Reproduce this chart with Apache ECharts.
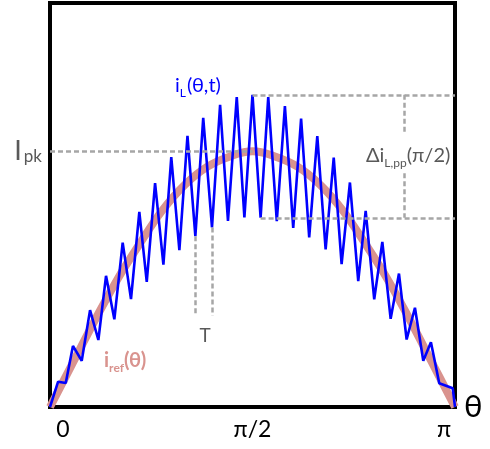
<!DOCTYPE html>
<html><head><meta charset="utf-8">
<script src="https://cdn.jsdelivr.net/npm/echarts@6/dist/echarts.min.js"></script>
<style>html,body{margin:0;padding:0;background:#fff}#c{width:490px;height:449px}</style>
</head><body><div id="c"></div>
<script>
// θ in degrees, currents normalised to I_pk
const thetaL = [0,3.6,7.0,10.2,14.1,17.8,21.5,24.9,28.6,32.3,36.0,39.7,43.0,46.7,50.4,53.9,57.5,61.1,64.6,68.1,72.0,75.6,79.1,83.0,86.4,90.0,93.6,97.0,100.8,104.4,108.1,111.6,115.2,118.8,122.5,126.1,129.6,133.3,137.0,140.3,144.1,147.7,151.4,155.1,158.5,162.2,165.9,169.3,173.0,179.0,180];
const iL     = [0,0.099,0.094,0.239,0.181,0.379,0.262,0.513,0.343,0.643,0.422,0.763,0.489,0.876,0.557,0.977,0.613,1.060,0.668,1.131,0.702,1.182,0.728,1.212,0.741,1.221,0.740,1.212,0.727,1.177,0.700,1.128,0.663,1.059,0.616,0.975,0.559,0.878,0.492,0.767,0.421,0.646,0.345,0.522,0.264,0.388,0.181,0.253,0.093,0.073,0];
const thetaRef = [0,10,20,30,40,50,60,70,80,90,100,110,120,130,140,150,160,170,180];
const iRef     = [0,0.17,0.34,0.50,0.64,0.77,0.87,0.94,0.98,1.00,0.98,0.94,0.87,0.77,0.64,0.50,0.34,0.17,0];
const xTicks = {0:'0', 90:'π/2', 180:'π'};
const Ipk = 1;
const tA = 18, tB = 20;          // indices of valleys marking T
const ppTop = 25, ppBot = 26;    // indices of peak / valley at π/2

const FONT = 'Lato, "Open Sans", sans-serif';
const DASH = {color:'#a6a6a6', width:2.5, type:[5,3]};
const seg = (a,b)=>[{coord:a},{coord:b}];

const chart = echarts.init(document.getElementById('c'));
chart.setOption({
  animation:false,
  grid:{left:50,top:3,right:35,bottom:42,show:true,borderColor:'#000',borderWidth:4,backgroundColor:'transparent'},
  xAxis:{type:'value',min:0,max:180,interval:90,
    axisLine:{show:false},axisTick:{show:false},splitLine:{show:false},
    name:'θ',nameLocation:'end',nameGap:9,
    nameTextStyle:{fontSize:31,color:'#000',fontFamily:FONT,verticalAlign:'middle'},
    axisLabel:{margin:11,fontFamily:FONT,fontSize:23,color:'#000',
      formatter:v=> v===0?'{l|0}':(v===180?'{r|π}':'{m|'+xTicks[v]+'}'),
      rich:{l:{fontSize:23,fontFamily:FONT,color:'#000',padding:[0,0,0,26]},
            m:{fontSize:23,fontFamily:FONT,color:'#000'},
            r:{fontSize:23,fontFamily:FONT,color:'#000',padding:[0,22,0,0]}}}},
  yAxis:{type:'value',min:0,max:1.58,interval:1,
    axisLine:{show:false},axisTick:{show:false},splitLine:{show:false},
    axisLabel:{margin:8,showMaxLabel:false,
      formatter:v=> v===Ipk?'{I|I}{s|pk}':'',
      rich:{I:{fontSize:27,color:'#595959',fontFamily:FONT,verticalAlign:'bottom',padding:[0,2,0,0]},
            s:{fontSize:17,color:'#595959',fontFamily:FONT,verticalAlign:'bottom',padding:[0,0,0,0]}}}},
  series:[
    {type:'line',data:thetaRef.map((t,i)=>[t,iRef[i]]),smooth:0.4,symbol:'none',
     lineStyle:{color:'#d9938e',width:8},z:1,
     markLine:{silent:true,symbol:'none',label:{show:false},lineStyle:DASH,
       data:[
         seg([0,Ipk],[90,Ipk]),
         seg([thetaL[ppTop],iL[ppTop]],[180,iL[ppTop]]),
         seg([thetaL[ppBot],iL[ppBot]],[180,iL[ppBot]]),
         seg([157.5,iL[ppTop]],[157.5,1.074]),
         seg([157.5,0.914],[157.5,iL[ppBot]]),
         seg([thetaL[tA],iL[tA]],[thetaL[tA],0.357]),
         seg([thetaL[tB],iL[tB]],[thetaL[tB],0.357])
       ]}},
    {type:'line',data:thetaL.map((t,i)=>[t,iL[i]]),symbol:'none',
     lineStyle:{color:'#0000ff',width:2.6},z:3}
  ],
  graphic:[
    {type:'text',x:175,y:86,z:10,style:{text:'{a|i}{b|L}{a|(θ,t)}',verticalAlign:'middle',
      rich:{a:{fontSize:20,fontFamily:FONT,fill:'#0000ff',verticalAlign:'bottom'},
            b:{fontSize:12,fontFamily:FONT,fill:'#0000ff',verticalAlign:'bottom',padding:[0,1,-3,0]}}}},
    {type:'text',x:366,y:156,z:10,style:{text:'{a|Δi}{b|L,pp}{a|(π/2)}',verticalAlign:'middle',
      rich:{a:{fontSize:20,fontFamily:FONT,fill:'#595959',verticalAlign:'bottom'},
            b:{fontSize:12,fontFamily:FONT,fill:'#595959',verticalAlign:'bottom',padding:[0,0,-3,0]}}}},
    {type:'text',x:104,y:361,z:10,style:{text:'{a|i}{b|ref}{a|(θ)}',verticalAlign:'middle',
      rich:{a:{fontSize:20,fontWeight:'bold',fontFamily:FONT,fill:'#d9938e',verticalAlign:'bottom'},
            b:{fontSize:12,fontWeight:'bold',fontFamily:FONT,fill:'#d9938e',verticalAlign:'bottom',padding:[0,0,-3,0]}}}},
    {type:'text',x:205,y:336,z:10,style:{text:'T',align:'center',verticalAlign:'middle',fontSize:19,fontFamily:FONT,fill:'#595959'}}
  ]
});
</script></body></html>
